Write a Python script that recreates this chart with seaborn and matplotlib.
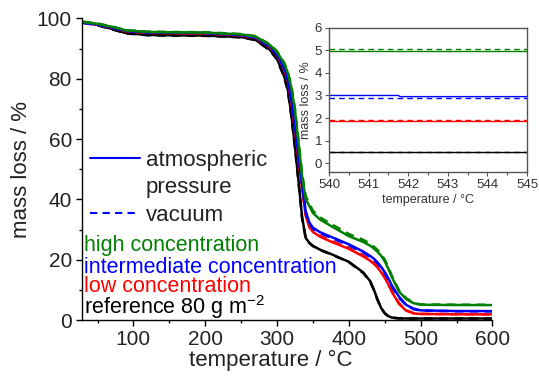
import matplotlib
matplotlib.use("Agg")
import matplotlib.pyplot as plt
from matplotlib.lines import Line2D
from matplotlib.ticker import MultipleLocator
import numpy as np
import pandas as pd
import seaborn as sns

# ---------------- data ----------------
temperature = [30, 50, 70, 90, 120, 150, 200, 250, 270, 290, 300, 310, 315, 320, 325,
               330, 335, 340, 345, 350, 360, 375, 400, 420, 430, 435, 440, 445, 450,
               455, 460, 470, 480, 490, 500, 550, 600]

ref_atm = [98.7, 97.8, 96.5, 95.1, 94.5, 94.4, 94.3, 93.8, 92.9, 89.6, 86.6, 80.8, 76.5,
           68.0, 57.5, 46.0, 34.0, 27.2, 25.6, 24.6, 23.3, 21.9, 19.3, 15.8, 12.8, 10.0,
           6.8, 4.0, 2.3, 1.3, 0.8, 0.55, 0.5, 0.5, 0.5, 0.5, 0.5]
ref_vac = [98.6, 97.7, 96.4, 95.0, 94.4, 94.3, 94.2, 93.7, 92.8, 89.4, 86.4, 80.5, 76.0,
           67.5, 57.0, 45.5, 33.5, 27.0, 25.5, 24.5, 23.2, 21.8, 19.2, 15.6, 12.6, 9.8,
           6.6, 3.9, 2.2, 1.2, 0.8, 0.55, 0.5, 0.5, 0.5, 0.5, 0.5]
low_atm = [98.5, 97.9, 96.9, 95.7, 95.2, 95.1, 95.0, 94.3, 93.5, 90.5, 87.8, 83.0, 79.3,
           72.0, 63.0, 53.0, 43.5, 34.5, 30.8, 29.2, 27.6, 26.0, 23.6, 21.1, 19.6, 18.6,
           17.4, 15.8, 14.0, 11.8, 9.3, 5.3, 3.1, 2.2, 2.0, 1.9, 1.88]
low_vac = [98.6, 98.0, 97.0, 95.8, 95.3, 95.2, 95.1, 94.4, 93.6, 90.7, 88.0, 83.3, 79.6,
           72.5, 63.5, 53.5, 44.0, 35.0, 31.2, 29.5, 27.9, 26.3, 23.9, 21.4, 19.9, 18.9,
           17.6, 16.0, 14.3, 12.0, 9.6, 5.5, 3.2, 2.3, 2.05, 1.95, 1.9]
int_atm = [98.6, 98.0, 97.0, 95.9, 95.4, 95.3, 95.2, 94.5, 93.7, 90.8, 88.2, 83.6, 80.0,
           73.0, 64.0, 54.5, 45.0, 36.0, 32.3, 30.6, 29.1, 27.6, 25.1, 22.7, 21.2, 20.3,
           19.1, 17.6, 15.9, 13.8, 11.4, 7.7, 5.0, 3.8, 3.2, 2.97, 2.95]
int_vac = [98.5, 97.9, 96.9, 95.8, 95.3, 95.2, 95.1, 94.4, 93.6, 90.6, 88.0, 83.3, 79.6,
           72.5, 63.5, 54.0, 44.5, 35.6, 32.0, 30.3, 28.8, 27.3, 24.8, 22.4, 20.9, 20.0,
           18.8, 17.3, 15.6, 13.5, 11.1, 7.4, 4.8, 3.6, 3.1, 2.9, 2.88]
high_atm = [98.8, 98.2, 97.2, 96.0, 95.5, 95.4, 95.3, 94.7, 94.0, 91.2, 88.9, 85.0, 82.0,
            77.0, 69.5, 58.5, 47.5, 40.0, 37.8, 35.5, 33.3, 31.2, 27.8, 25.9, 24.6, 23.7,
            22.6, 21.3, 19.5, 17.0, 14.2, 9.4, 6.9, 5.6, 5.05, 4.97, 4.95]
high_vac = [98.9, 98.3, 97.3, 96.1, 95.6, 95.5, 95.4, 94.8, 94.1, 91.4, 89.1, 85.3, 82.4,
            77.6, 70.0, 59.5, 48.5, 41.0, 38.6, 36.2, 34.0, 31.9, 28.5, 26.6, 25.3, 24.3,
            23.2, 21.8, 20.0, 17.5, 14.6, 9.8, 7.2, 5.8, 5.15, 5.07, 5.05]

inset_temperature = [540.0, 541.75, 541.8, 545.0]
inset_ref_atm = [0.5, 0.5, 0.5, 0.5]
inset_ref_vac = [0.5, 0.5, 0.5, 0.5]
inset_low_atm = [1.88, 1.88, 1.88, 1.88]
inset_low_vac = [1.9, 1.9, 1.9, 1.9]
inset_int_atm = [3.0, 3.0, 2.95, 2.95]
inset_int_vac = [2.88, 2.88, 2.88, 2.88]
inset_high_atm = [4.95, 4.95, 4.95, 4.95]
inset_high_vac = [5.05, 5.05, 5.05, 5.05]

samples = ["reference 80 g m$^{-2}$", "low concentration",
           "intermediate concentration", "high concentration"]
sample_colors = ["black", "#ff0000", "#0000ff", "#008000"]
conditions = ["atmospheric pressure", "vacuum"]
legend_labels = ["atmospheric", "pressure", "vacuum"]

main_series = {
    (samples[0], conditions[0]): ref_atm, (samples[0], conditions[1]): ref_vac,
    (samples[1], conditions[0]): low_atm, (samples[1], conditions[1]): low_vac,
    (samples[2], conditions[0]): int_atm, (samples[2], conditions[1]): int_vac,
    (samples[3], conditions[0]): high_atm, (samples[3], conditions[1]): high_vac,
}
inset_series = {
    (samples[0], conditions[0]): inset_ref_atm, (samples[0], conditions[1]): inset_ref_vac,
    (samples[1], conditions[0]): inset_low_atm, (samples[1], conditions[1]): inset_low_vac,
    (samples[2], conditions[0]): inset_int_atm, (samples[2], conditions[1]): inset_int_vac,
    (samples[3], conditions[0]): inset_high_atm, (samples[3], conditions[1]): inset_high_vac,
}


def long_frame(xs, series):
    rows = []
    for (s, c), ys in series.items():
        for x, y in zip(xs, ys):
            rows.append({"temperature": x, "mass": y, "sample": s, "condition": c})
    return pd.DataFrame(rows)


df_main = long_frame(temperature, main_series)
df_inset = long_frame(inset_temperature, inset_series)

# ---------------- style ----------------
sns.set_theme(style="ticks")
plt.rcParams["font.family"] = ["Liberation Sans", "DejaVu Sans"]
plt.rcParams["mathtext.fontset"] = "custom"
plt.rcParams["mathtext.rm"] = "Liberation Sans"
plt.rcParams["mathtext.it"] = "Liberation Sans:italic"
plt.rcParams["mathtext.bf"] = "Liberation Sans:bold"

palette = dict(zip(samples, sample_colors))

fig = plt.figure(figsize=(5.39, 3.78), dpi=100)
ax = fig.add_axes([0.1516, 0.1534, 0.762, 0.798])

sns.lineplot(data=df_main, x="temperature", y="mass", hue="sample", style="condition",
             hue_order=samples, style_order=conditions, palette=palette,
             dashes={conditions[0]: "", conditions[1]: (3.5, 2.5)},
             estimator=None, sort=False, linewidth=1.8, legend=False, ax=ax)

ax.set_xlim(28, 600)
ax.set_ylim(0, 100)
ax.xaxis.set_major_locator(MultipleLocator(100))
ax.xaxis.set_minor_locator(MultipleLocator(50))
ax.yaxis.set_major_locator(MultipleLocator(20))
ax.yaxis.set_minor_locator(MultipleLocator(10))
sns.despine(ax=ax)
for sp in ("left", "bottom"):
    ax.spines[sp].set_color("black")
    ax.spines[sp].set_linewidth(1.0)
ax.tick_params(which="major", direction="out", length=4, width=1, labelsize=15,
               pad=3, colors="black", labelcolor="#222222")
ax.tick_params(which="minor", direction="out", length=2.5, width=1, colors="black")
ax.set_xlabel("temperature / °C", fontsize=16, color="#222222")
ax.set_ylabel("mass loss / %", fontsize=16, color="#222222")
ax.xaxis.set_label_coords(0.461, -0.1)
ax.yaxis.set_label_coords(-0.12, 0.5)

# legend for the two atmospheres
handles = [Line2D([], [], color="#0000ff", lw=1.5),
           Line2D([], [], color="none", lw=0),
           Line2D([], [], color="#0000ff", lw=1.5, dashes=(3.5, 2.5))]
leg = ax.legend(handles, legend_labels, loc="upper left", bbox_to_anchor=(0.02, 0.565),
                frameon=False, fontsize=16, handlelength=2.25, handletextpad=0.27,
                labelspacing=0.3, borderpad=0, borderaxespad=0)
for t in leg.get_texts():
    t.set_color("#222222")

# coloured sample labels
label_y = [4.2, 11.0, 17.4, 24.6]
for s, c, yy in zip(samples, sample_colors, label_y):
    ax.text(0.006, yy, s, color=c, fontsize=15.5, va="center", ha="left",
            transform=ax.get_yaxis_transform())

# ---------------- inset ----------------
axin = fig.add_axes([0.6104, 0.5442, 0.3673, 0.3825])
sns.lineplot(data=df_inset, x="temperature", y="mass", hue="sample", style="condition",
             hue_order=samples, style_order=conditions, palette=palette,
             dashes={conditions[0]: "", conditions[1]: (4, 3)},
             estimator=None, sort=False, linewidth=1.0, legend=False, ax=axin)
axin.set_xlim(540, 545)
axin.set_ylim(-0.4, 6)
axin.xaxis.set_major_locator(MultipleLocator(1))
axin.xaxis.set_minor_locator(MultipleLocator(0.5))
axin.yaxis.set_major_locator(MultipleLocator(1))
for sp in axin.spines.values():
    sp.set_color("#555555")
    sp.set_linewidth(1.0)
axin.tick_params(which="major", direction="out", length=3, width=0.8, labelsize=9.5,
                 pad=2, colors="#555555", labelcolor="#333333")
axin.tick_params(which="minor", direction="out", length=2, width=0.8, colors="#555555")
axin.set_xlabel("temperature / °C", fontsize=9, color="#333333", labelpad=2)
axin.set_ylabel("mass loss / %", fontsize=9, color="#333333", labelpad=2)

fig.savefig("out.png", dpi=100)
